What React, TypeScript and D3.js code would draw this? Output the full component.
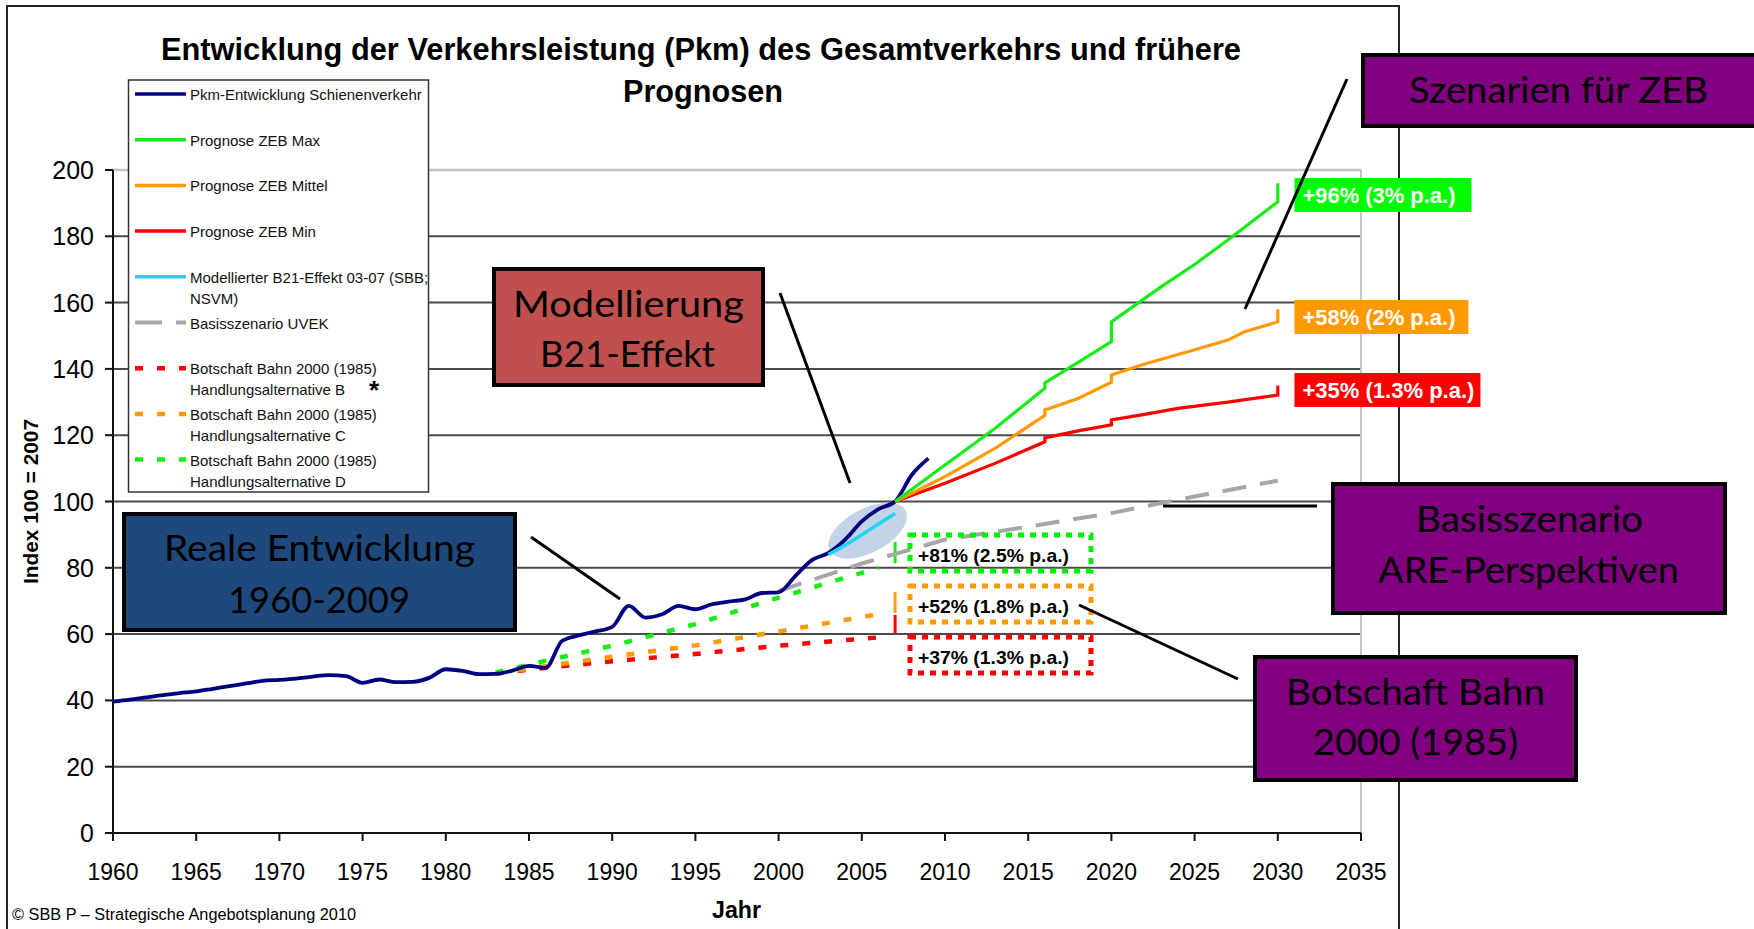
import React from 'react'
import * as d3 from 'd3'

const width = 1754
const height = 929

// Pkm-Entwicklung Schienenverkehr, one value per year from 1960 (Index 100 = 2007)
const realStartYear = 1960
const realValues = [
  39.6, 40.2, 40.9, 41.6, 42.2, 42.7, 43.5, 44.3, 45.1, 45.9,
  46.2, 46.6, 47.2, 47.6, 47.3, 45.3, 46.3, 45.5, 45.6, 46.8,
  49.4, 48.9, 47.9, 48.0, 49.0, 50.4, 49.8, 58.0, 59.6, 60.8,
  62.2, 68.5, 65.0, 66.0, 68.5, 67.5, 69.0, 69.8, 70.5, 72.4,
  72.6, 77.5, 82.3, 84.5, 88.5, 94.0, 97.7, 100, 108.0, 113.0,
]

// [Jahr, Index]
const b21Effect = [[2003, 84], [2004, 86.8], [2005, 90], [2006, 93.2], [2007, 96.4]]
const zebMax = [[2007, 100], [2010, 111], [2013, 122], [2016, 134.2], [2016, 135.8], [2018, 142], [2020, 148.2], [2020, 154.2], [2023, 164.8], [2025, 171.5], [2027, 178.9], [2030, 190.4], [2030, 196]]
const zebMittel = [[2007, 100], [2010, 107.5], [2013, 116], [2016, 126], [2016, 127.6], [2018, 131.1], [2020, 136], [2020, 138.2], [2022, 141.5], [2025, 145.8], [2027, 148.7], [2028, 151.2], [2030, 154.2], [2030, 158]]
const zebMin = [[2007, 100], [2010, 105.5], [2013, 111.5], [2016, 118], [2016, 119.2], [2018, 121.3], [2020, 123.1], [2020, 124.6], [2022, 126.3], [2024, 128.1], [2027, 130], [2030, 132.1], [2030, 135]]
const basisUvek = [[2000, 73], [2005, 81.3], [2010, 88.5], [2015, 92.4], [2020, 96.5], [2025, 101.5], [2030, 106.3]]
const botschaftB = [[1983, 48], [1985, 49.3], [1990, 51.8], [1995, 54], [2000, 56.5], [2006, 59]]
const botschaftC = [[1983, 48], [1985, 49.6], [1990, 53.2], [1995, 56.6], [2000, 60.8], [2006, 66]]
const botschaftD = [[1983, 48.4], [1985, 50.8], [1990, 56.5], [1995, 63], [2000, 71], [2006, 80]]
// Spannweite 2007 (B, C, D)
const botschaftRange2007 = [[60.3, 65.8], [66.4, 72.7], [81.4, 87.8]]

const yTicks = [0, 20, 40, 60, 80, 100, 120, 140, 160, 180, 200]
const xTicks = [1960, 1965, 1970, 1975, 1980, 1985, 1990, 1995, 2000, 2005, 2010, 2015, 2020, 2025, 2030, 2035]

const zebLabels = ['+96% (3% p.a.)', '+58% (2% p.a.)', '+35% (1.3% p.a.)']
const botschaftLabels = ['+81% (2.5% p.a.)', '+52% (1.8% p.a.)', '+37% (1.3% p.a.)']

const legendLabels = [
  ['Pkm-Entwicklung Schienenverkehr'],
  ['Prognose ZEB Max'],
  ['Prognose ZEB Mittel'],
  ['Prognose ZEB Min'],
  ['Modellierter B21-Effekt 03-07 (SBB;', 'NSVM)'],
  ['Basisszenario UVEK'],
  ['Botschaft Bahn 2000 (1985)', 'Handlungsalternative B'],
  ['Botschaft Bahn 2000 (1985)', 'Handlungsalternative C'],
  ['Botschaft Bahn 2000 (1985)', 'Handlungsalternative D'],
]

const C = {
  navy: '#000080', green: '#14ee14', orange: '#ff9900', red: '#ff0000',
  cyan: '#1fd6f2', gray: '#a6a6a6', purple: '#800080', brick: '#c0504d', blue: '#1f497d',
}
const sans = "'Liberation Sans', Arial, sans-serif"
const boxFont = "Lato, 'Open Sans', sans-serif"

export default function App() {
  const x = d3.scaleLinear().domain([1960, 2035]).range([113, 1361])
  const y = d3.scaleLinear().domain([0, 200]).range([833, 170])
  const line = d3.line().x(d => x(d[0])).y(d => y(d[1]))
  const smooth = d3.line().x(d => x(d[0])).y(d => y(d[1])).curve(d3.curveMonotoneX)

  const real = realValues.map((v, i) => [realStartYear + i, v])

  const legendStyles = [
    {stroke: C.navy, dash: null, w: 3.5},
    {stroke: C.green, dash: null, w: 3.5},
    {stroke: C.orange, dash: null, w: 3.5},
    {stroke: C.red, dash: null, w: 3.5},
    {stroke: C.cyan, dash: null, w: 3.5},
    {stroke: C.gray, dash: '27 14', w: 4},
    {stroke: C.red, dash: '8 14', w: 4.5},
    {stroke: C.orange, dash: '8 14', w: 4.5},
    {stroke: C.green, dash: '8 14', w: 4.5},
  ]

  const boxes = [
    {x: 494, y: 269, w: 269, h: 116, fill: C.brick, texts: [['Modellierung', 513, 317, 231], ['B21-Effekt', 540, 367, 175]]},
    {x: 1363, y: 55, w: 400, h: 71, fill: C.purple, texts: [['Szenarien für ZEB', 1409, 103, 299]]},
    {x: 1333, y: 484, w: 392, h: 129, fill: C.purple, texts: [['Basisszenario', 1416, 532, 227], ['ARE-Perspektiven', 1378, 583, 301]]},
    {x: 1255, y: 657, w: 321, h: 123, fill: C.purple, texts: [['Botschaft Bahn', 1286, 705, 259], ['2000 (1985)', 1313, 755, 205]]},
    {x: 124, y: 514, w: 391, h: 116, fill: C.blue, texts: [['Reale Entwicklung', 164, 561, 311], ['1960-2009', 228, 613, 182]]},
  ]
  const pointers = [[780, 293, 850, 483], [531, 537, 620, 599], [1347, 79, 1245, 309], [1163, 506, 1317, 506], [1079, 605, 1238, 679]]

  const zebBoxes = [
    {fill: '#00ff00', y: 178, w: 177, len: 153},
    {fill: C.orange, y: 300, w: 174, len: 153},
    {fill: C.red, y: 373, w: 186, len: 172},
  ]
  const botBoxes = [
    {stroke: '#00ee00', y: 535},
    {stroke: C.orange, y: 586},
    {stroke: C.red, y: 637},
  ]

  return (
    <svg width={width} height={height} style={{position: 'absolute', left: 0, top: 0, display: 'block', background: '#fff'}}>
      <rect x={7} y={6} width={1392} height={960} fill="none" stroke="#222" strokeWidth={2} />

      {/* title */}
      <text x={161} y={60} fontFamily={sans} fontWeight="bold" fontSize={31} textLength={1080} lengthAdjust="spacingAndGlyphs">Entwicklung der Verkehrsleistung (Pkm) des Gesamtverkehrs und frühere</text>
      <text x={623} y={102} fontFamily={sans} fontWeight="bold" fontSize={31} textLength={160} lengthAdjust="spacingAndGlyphs">Prognosen</text>

      {/* grid */}
      {yTicks.filter(t => t > 0 && t < 200).map(t => (
        <line key={t} x1={x(1960)} x2={x(2035)} y1={y(t)} y2={y(t)} stroke="#4a4a4a" strokeWidth={2} />
      ))}
      <line x1={x(1960)} x2={x(2035)} y1={y(200)} y2={y(200)} stroke="#c4c4c4" strokeWidth={2.5} />
      <line x1={x(2035)} x2={x(2035)} y1={y(200)} y2={y(0)} stroke="#c4c4c4" strokeWidth={2} />

      {/* axes */}
      <line x1={x(1960)} x2={x(1960)} y1={y(200)} y2={y(0)} stroke="#111" strokeWidth={2} />
      <line x1={x(1960)} x2={x(2035)} y1={y(0)} y2={y(0)} stroke="#111" strokeWidth={2} />
      {yTicks.map(t => (
        <g key={'yt' + t}>
          <line x1={x(1960) - 8} x2={x(1960)} y1={y(t)} y2={y(t)} stroke="#111" strokeWidth={2} />
          <text x={94} y={y(t) + 9} textAnchor="end" fontFamily={sans} fontSize={25}>{t}</text>
        </g>
      ))}
      {xTicks.map(t => (
        <g key={'xt' + t}>
          <line x1={x(t)} x2={x(t)} y1={y(0)} y2={y(0) + 8} stroke="#111" strokeWidth={2} />
          <text x={x(t)} y={880} textAnchor="middle" fontFamily={sans} fontSize={23}>{t}</text>
        </g>
      ))}
      <text transform="translate(38,584) rotate(-90)" fontFamily={sans} fontWeight="bold" fontSize={20} textLength={165} lengthAdjust="spacingAndGlyphs">Index 100 = 2007</text>
      <text x={712} y={918} fontFamily={sans} fontWeight="bold" fontSize={23} textLength={49} lengthAdjust="spacingAndGlyphs">Jahr</text>
      <text x={12} y={920} fontFamily={sans} fontSize={16} textLength={344} lengthAdjust="spacingAndGlyphs">© SBB P – Strategische Angebotsplanung 2010</text>

      {/* B21 highlight */}
      <ellipse cx={x(2005.35)} cy={y(91.2)} rx={43} ry={22} transform={`rotate(-28 ${x(2005.35)} ${y(91.2)})`} fill="#c3d3e8" />

      {/* series */}
      <path d={line(botschaftB)} fill="none" stroke={C.red} strokeWidth={4.5} strokeDasharray="8 14" />
      <path d={line(botschaftC)} fill="none" stroke={C.orange} strokeWidth={4.5} strokeDasharray="8 14" />
      <path d={line(botschaftD)} fill="none" stroke={C.green} strokeWidth={4.5} strokeDasharray="8 14" />
      {botschaftRange2007.map((r, i) => (
        <line key={'br' + i} x1={x(2007)} x2={x(2007)} y1={y(r[0])} y2={y(r[1])} stroke={[C.red, C.orange, C.green][i]} strokeWidth={3} />
      ))}
      <path d={line(basisUvek)} fill="none" stroke={C.gray} strokeWidth={4} strokeDasharray="24 14" />
      <path d={smooth(real)} fill="none" stroke={C.navy} strokeWidth={3.8} strokeLinejoin="round" />
      <path d={line(zebMin)} fill="none" stroke={C.red} strokeWidth={3.2} />
      <path d={line(zebMittel)} fill="none" stroke={C.orange} strokeWidth={3.2} />
      <path d={line(zebMax)} fill="none" stroke={C.green} strokeWidth={3.2} />
      <path d={line(b21Effect)} fill="none" stroke={C.cyan} strokeWidth={3.5} />

      {/* ZEB end labels */}
      {zebBoxes.map((b, i) => (
        <g key={'zb' + i}>
          <rect x={x(2031)} y={b.y} width={b.w} height={34} fill={b.fill} />
          <text x={x(2031) + 8} y={b.y + 25} fill="#fff" fontFamily={sans} fontWeight="bold" fontSize={21.5} textLength={b.len} lengthAdjust="spacingAndGlyphs">{zebLabels[i]}</text>
        </g>
      ))}

      {/* Botschaft labels */}
      {botBoxes.map((b, i) => (
        <g key={'bb' + i}>
          <rect x={910} y={b.y} width={181} height={36} fill="none" stroke={b.stroke} strokeWidth={5} strokeDasharray="6 6" />
          <text x={918} y={b.y + 27} fill="#000" fontFamily={sans} fontWeight="bold" fontSize={18.5} textLength={151} lengthAdjust="spacingAndGlyphs">{botschaftLabels[i]}</text>
        </g>
      ))}

      {/* legend */}
      <rect x={128.5} y={80} width={300} height={412} fill="#fff" stroke="#333" strokeWidth={1.5} />
      {legendLabels.map((lines, i) => {
        const ly = 94 + i * 45.7
        const s = legendStyles[i]
        return (
          <g key={'lg' + i}>
            <line x1={135} x2={186} y1={ly} y2={ly} stroke={s.stroke} strokeWidth={s.w} strokeDasharray={s.dash || undefined} />
            {lines.map((t, j) => (
              <text key={j} x={190} y={ly + 6 + j * 21} fontFamily={sans} fontSize={15} fill="#111">{t}</text>
            ))}
          </g>
        )
      })}
      <text x={369} y={399} fontFamily={sans} fontWeight="bold" fontSize={26}>*</text>

      {/* callouts */}
      {pointers.map((p, i) => (
        <line key={'pt' + i} x1={p[0]} y1={p[1]} x2={p[2]} y2={p[3]} stroke="#000" strokeWidth={3} />
      ))}
      {boxes.map((b, i) => (
        <g key={'bx' + i}>
          <rect x={b.x} y={b.y} width={b.w} height={b.h} fill={b.fill} stroke="#000" strokeWidth={4} />
          {b.texts.map((t, j) => (
            <text key={j} x={t[1]} y={t[2]} fontFamily={boxFont} fontSize={36} fill="#000" textLength={t[3]} lengthAdjust="spacingAndGlyphs">{t[0]}</text>
          ))}
        </g>
      ))}
    </svg>
  )
}
